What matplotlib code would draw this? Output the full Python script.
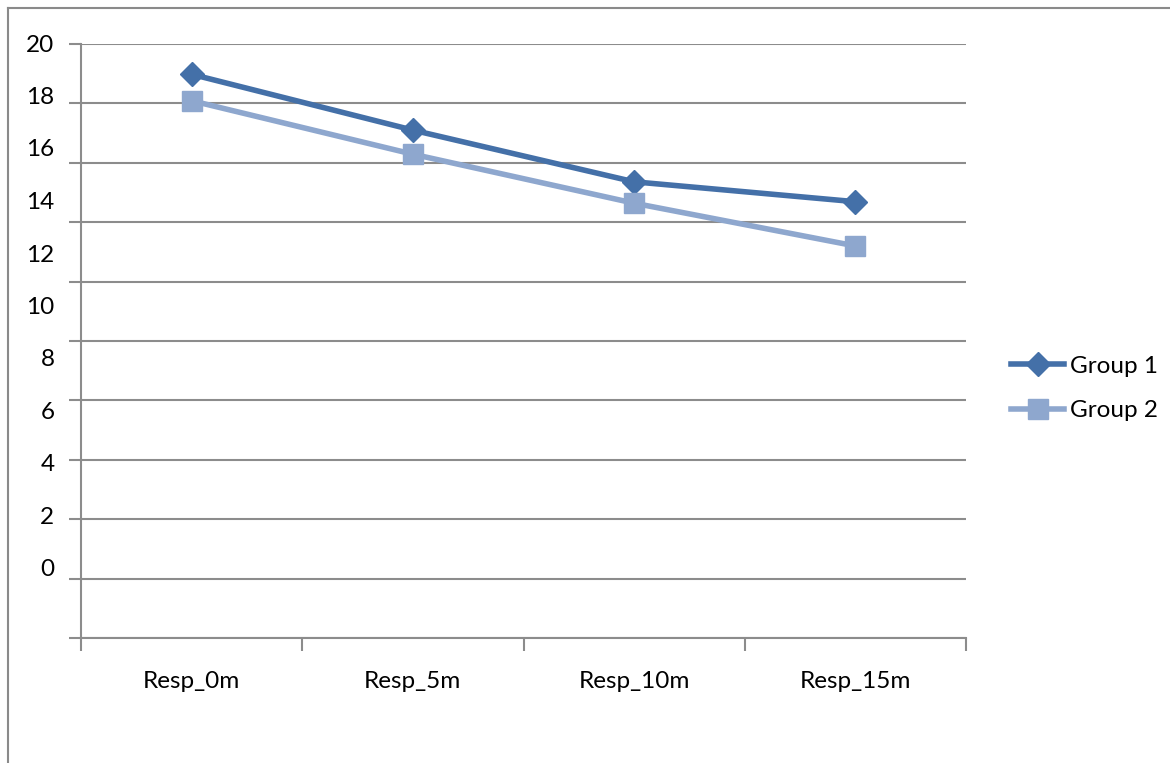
import matplotlib
matplotlib.use('Agg')
import matplotlib.pyplot as plt
import numpy as np

categories = ['Resp_0m', 'Resp_5m', 'Resp_10m', 'Resp_15m']
group1 = [18.98, 17.1, 15.36, 14.69]
group2 = [18.09, 16.29, 14.64, 13.2]
ylabels = ['20', '18', '16', '14', '12', '10', '8', '6', '4', '2', '0']

plt.rcParams['font.family'] = ['Lato', 'DejaVu Sans']

fig = plt.figure(figsize=(11.7, 7.63), dpi=100)
# chart area border (top and left edges visible)
fig.add_artist(plt.Line2D([8/1170, 1.0], [1-8/763, 1-8/763], color='#8a8a8a', lw=1.5))
fig.add_artist(plt.Line2D([8/1170, 8/1170], [0, 1-8/763], color='#8a8a8a', lw=1.5))

ax = fig.add_axes([81/1170, 125/763, 885/1170, 594/763])
x = np.arange(len(categories))

ax.plot(x, group1, color='#4470a8', lw=4, marker='D', ms=12, label='Group 1', zorder=3)
ax.plot(x, group2, color='#8ea7ce', lw=4, marker='s', ms=14, label='Group 2', zorder=3)

ax.set_xlim(-0.5, len(categories) - 0.5)
ax.set_ylim(0, 20)
ax.set_yticks(np.arange(0, 21, 2))
ax.set_yticklabels([])
ax.yaxis.grid(True, color='#8c8c8c', lw=1.5)
ax.tick_params(axis='y', length=9, width=1.5, color='#8c8c8c')

# category labels centred, ticks at category boundaries
ax.set_xticks(x)
ax.set_xticklabels(categories, fontsize=17.5)
ax.tick_params(axis='x', length=0, pad=24)
ax.set_xticks(np.arange(-0.5, len(categories)), minor=True)
ax.tick_params(axis='x', which='minor', length=9, width=1.5, color='#8c8c8c')

for side in ['top', 'right']:
    ax.spines[side].set_visible(False)
for side in ['left', 'bottom']:
    ax.spines[side].set_color('#8c8c8c')
    ax.spines[side].set_linewidth(1.5)

# value labels as drawn in the original (evenly spaced, not on the gridlines)
label_pos = np.linspace(1 - 1/594, (638 - 570)/594, len(ylabels))
for lab, yp in zip(ylabels, label_pos):
    ax.text(-0.03, yp, lab, transform=ax.transAxes, ha='right', va='center', fontsize=17.5)

ax.legend(loc='center left', bbox_to_anchor=(1.026, 0.42), frameon=False, fontsize=17.5,
          handlelength=2.2, labelspacing=0.95, handletextpad=0.25)

fig.savefig('out.png', dpi=100)
